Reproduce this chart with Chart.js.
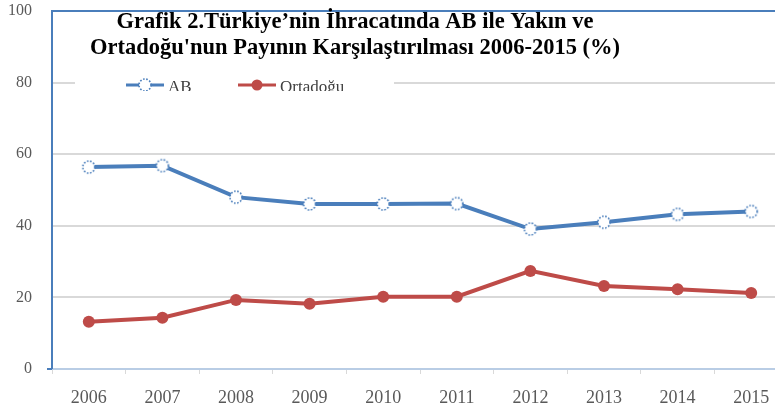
<!DOCTYPE html>
<html>
<head>
<meta charset="utf-8">
<script src="https://cdn.jsdelivr.net/npm/chart.js@4"></script>
<style>
  html, body { margin: 0; padding: 0; background: #fff; overflow: hidden; }
  #wrap { width: 775px; height: 414px; overflow: hidden; }
</style>
</head>
<body>
<div id="wrap"><canvas id="chart" width="798" height="414"></canvas></div>
<script>
// Türkiye'nin ihracatında AB ve Yakın/Ortadoğu payı (%)
const years = ['2006', '2007', '2008', '2009', '2010', '2011', '2012', '2013', '2014', '2015'];
const abShare = [56.4, 56.8, 48.0, 46.1, 46.1, 46.2, 39.1, 41.0, 43.2, 44.0];
const ortadoguShare = [13.2, 14.3, 19.3, 18.2, 20.2, 20.2, 27.4, 23.2, 22.3, 21.2];
const yTicks = [0, 20, 40, 60, 80, 100];
const titleLines = [
    'Grafik 2.Türkiye’nin İhracatında AB ile Yakın ve',
    'Ortadoğu\'nun Payının Karşılaştırılması 2006-2015 (%)'
];

const BLUE = '#4A7EBB';
const RED = '#BE4B48';

// dotted hollow marker used by the AB series
function dottedMarker(size, r, color) {
    const c = document.createElement('canvas');
    c.width = size;
    c.height = size;
    const g = c.getContext('2d');
    g.beginPath();
    g.arc(size / 2, size / 2, r, 0, Math.PI * 2);
    g.fillStyle = '#fff';
    g.fill();
    g.setLineDash([1.6, 1.6]);
    g.lineWidth = 1.6;
    g.strokeStyle = color;
    g.stroke();
    return c;
}
const abMarker = dottedMarker(16, 6, BLUE);

const overlay = {
    id: 'overlay',
    afterDraw(chart) {
        const ctx = chart.ctx;
        const area = chart.chartArea;
        const y = chart.scales.y;
        ctx.save();

        // small tick at zero
        ctx.strokeStyle = BLUE;
        ctx.lineWidth = 2;
        ctx.beginPath();
        ctx.moveTo(area.left - 5, y.getPixelForValue(0));
        ctx.lineTo(area.left, y.getPixelForValue(0));
        ctx.stroke();

        // title
        ctx.fillStyle = '#000';
        ctx.font = 'bold 22.5px "Liberation Serif"';
        ctx.textAlign = 'center';
        ctx.textBaseline = 'alphabetic';
        ctx.fillText(titleLines[0], 355, 28);
        ctx.fillText(titleLines[1], 355, 54);

        // legend box (clipped like the original)
        ctx.fillStyle = '#fff';
        ctx.fillRect(75, 76, 319, 15);
        ctx.beginPath();
        ctx.rect(75, 76, 319, 15);
        ctx.clip();
        const ly = 85;
        const items = [
            { x: 126, label: 'AB', color: BLUE, marker: 'dotted' },
            { x: 238, label: 'Ortadoğu', color: RED, marker: 'solid' }
        ];
        items.forEach(it => {
            ctx.strokeStyle = it.color;
            ctx.lineWidth = 3;
            ctx.beginPath();
            ctx.moveTo(it.x, ly);
            ctx.lineTo(it.x + 38, ly);
            ctx.stroke();
            const mx = it.x + 19;
            if (it.marker === 'dotted') {
                ctx.drawImage(abMarker, mx - 8, ly - 8);
            } else {
                ctx.fillStyle = it.color;
                ctx.beginPath();
                ctx.arc(mx, ly, 5.5, 0, Math.PI * 2);
                ctx.fill();
            }
            ctx.fillStyle = '#404040';
            ctx.font = '17px "Liberation Serif"';
            ctx.textAlign = 'left';
            ctx.textBaseline = 'alphabetic';
            ctx.fillText(it.label, it.x + 42, ly + 7);
        });
        ctx.restore();
    }
};

new Chart(document.getElementById('chart'), {
    type: 'line',
    data: {
        labels: years,
        datasets: [
            {
                label: 'AB',
                data: abShare,
                borderColor: BLUE,
                borderWidth: 4,
                pointStyle: abMarker,
                pointRadius: 6,
                tension: 0
            },
            {
                label: 'Ortadoğu',
                data: ortadoguShare,
                borderColor: RED,
                backgroundColor: RED,
                borderWidth: 4,
                pointStyle: 'circle',
                pointRadius: 6,
                pointBorderWidth: 0,
                tension: 0
            }
        ]
    },
    options: {
        responsive: false,
        animation: false,
        layout: { padding: { top: 11, right: 4, left: 0, bottom: 0 } },
        plugins: {
            legend: { display: false },
            title: { display: false },
            tooltip: { enabled: false }
        },
        scales: {
            x: {
                offset: true,
                grid: {
                    offset: true,
                    drawOnChartArea: false,
                    drawTicks: true,
                    tickLength: 5,
                    color: '#D9D9D9',
                    lineWidth: 1
                },
                border: { color: '#B9CDE5', width: 2 },
                ticks: {
                    color: '#595959',
                    font: { family: 'Liberation Serif', size: 18 },
                    padding: 13,
                    maxRotation: 0
                },
                afterFit(scale) {
                    scale.height = 45;
                    scale.paddingLeft = 0;
                    scale.paddingRight = 0;
                }
            },
            y: {
                min: 0,
                max: 100,
                afterBuildTicks(scale) {
                    scale.ticks = yTicks.map(v => ({ value: v }));
                },
                grid: {
                    drawTicks: false,
                    color: ctx => ctx.tick && ctx.tick.value === 100 ? BLUE : '#D9D9D9',
                    lineWidth: ctx => ctx.tick && ctx.tick.value === 0 ? 0 : 2
                },
                border: { color: BLUE, width: 2 },
                ticks: {
                    color: '#595959',
                    font: { family: 'Liberation Serif', size: 16 },
                    padding: 20
                },
                afterFit(scale) {
                    scale.width = 52;
                    scale.paddingTop = 0;
                    scale.paddingBottom = 0;
                }
            }
        }
    },
    plugins: [overlay]
});
</script>
</body>
</html>
